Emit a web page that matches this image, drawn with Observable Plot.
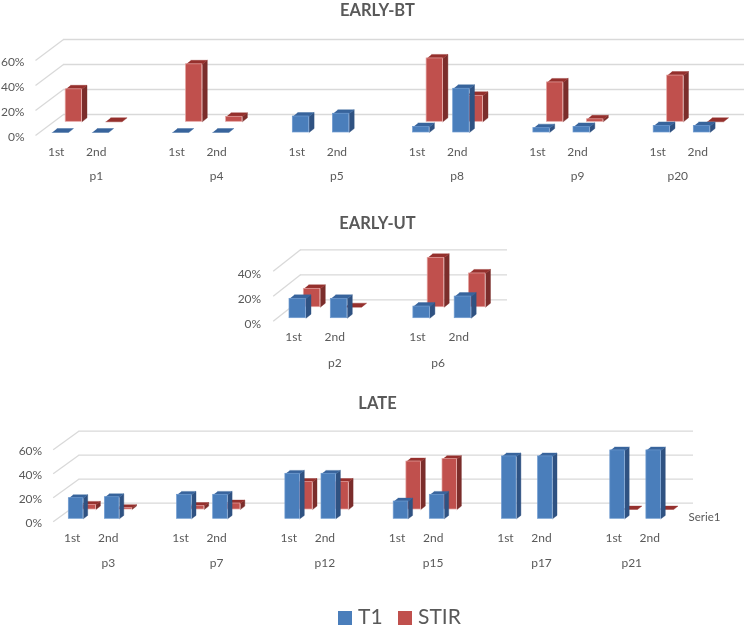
<!DOCTYPE html>
<html>
<head>
<meta charset="utf-8">
<script src="https://cdn.jsdelivr.net/npm/d3@7"></script>
<script src="https://cdn.jsdelivr.net/npm/@observablehq/plot@0.6"></script>
<style>
  html, body { margin: 0; padding: 0; background: #fff; }
  #page { position: relative; width: 746px; height: 629px; overflow: hidden; font-family: Lato, sans-serif; color: #595959; filter: blur(0.35px); }
  .panel { position: absolute; left: 0; }
  .panel svg { display: block; background: transparent; }
  .title { position: absolute; left: 0; width: 755px; text-align: center; font-size: 16.5px; font-weight: 700; line-height: 20px; color: #595959; }
  .legend { position: absolute; top: 603px; left: 0; width: 746px; height: 26px; font-size: 21px; line-height: 25px; }
  .legend i { position: absolute; top: 8px; width: 14px; height: 14px; display: block; }
  .legend span { position: absolute; top: 0; }
</style>
</head>
<body>
<div id="page"></div>
<script>
const rounds = ["1st", "2nd"];

const earlyBtPatients = ["p1", "p4", "p5", "p8", "p9", "p20"];
const earlyBtT1 = [0, 0, 0, 0, 12.8, 15, 4.5, 35, 3.5, 4.5, 5.3, 5.3];
const earlyBtStir = [26, 0, 46, 4, null, null, 50.7, 20.8, 31.5, 2, 37, 0];

const earlyUtPatients = ["p2", "p6"];
const earlyUtT1 = [15.5, 15.5, 9.3, 17.3];
const earlyUtStir = [14.7, 0, 39.5, 27];

const latePatients = ["p3", "p7", "p12", "p15", "p17", "p21"];
const lateT1 = [17.2, 18, 20, 20, 37.5, 37.5, 14.4, 20, 52, 52, 57, 57];
const lateStir = [3.9, 1.2, 3, 5, 23, 23, 40, 42, null, null, 0, 0];

const ticks3 = [0, 20, 40, 60];
const ticks2 = [0, 20, 40];

const palette = {
  T1: { front: "#4a7ebb", side: "#2f5282", top: "#38649c", edge: "#6f9bd0" },
  STIR: { front: "#c0504d", side: "#7b2d2b", top: "#95302d", edge: "#e6a5a3" }
};

function panel(cfg) {
  const { patients, t1, stir, ticks, top, height, unit, x0, barW, yBase, ppp,
          redDx, redDy, wallDy, diagX1, diagX2, xEnd, labelRight, labelDx, axisDy, roundDy, patientDy, depthX, depthY, extra } = cfg;

  const toU = px => (px - x0) / unit;
  const pxU = px => px / unit;
  const pxV = px => px / ppp;
  const ml = labelRight + 3;
  const wall = pxV(wallDy);

  function bars(values, key, shiftX, shiftY) {
    return values.map((v, i) => {
      if (v == null) return null;
      const xl = i * 1 + Math.floor(i / 2) + pxU(shiftX);
      return { key, id: key + i, v, xl, xr: xl + pxU(barW), base: pxV(shiftY) };
    }).filter(Boolean);
  }
  function faces(list) {
    const dx = pxU(depthX), dy = pxV(depthY);
    const rows = [];
    for (const b of list) {
      const c = palette[b.key];
      const top = b.base + b.v;
      if (b.v > 0) {
        [[b.xr, b.base], [b.xr + dx, b.base + dy], [b.xr + dx, top + dy], [b.xr, top]]
          .forEach(([x, y]) => rows.push({ id: b.id + "s", x, y, c: c.side }));
      }
      [[b.xl, top], [b.xr, top], [b.xr + dx, top + dy], [b.xl + dx, top + dy]]
        .forEach(([x, y]) => rows.push({ id: b.id + "t", x, y, c: c.top }));
    }
    return rows;
  }
  function seriesMarks(list, key) {
    const c = palette[key];
    return [
      Plot.line(faces(list), { x: "x", y: "y", z: "id", fill: "c", stroke: "c", strokeWidth: 0.4 }),
      Plot.rect(list.filter(b => b.v > 0), {
        x1: "xl", x2: "xr", y1: "base", y2: b => b.base + b.v,
        fill: c.front, stroke: c.edge, strokeWidth: 0.7
      })
    ];
  }

  const lastI = patients.length - 1;
  const roundLabels = patients.flatMap((p, i) => rounds.map((r, j) => ({ r, u: 3 * i + j + pxU(labelDx) })));
  const patientLabels = patients.map((p, i) => ({ p, u: 3 * i + (i === lastI ? 0.5 : 1) + pxU(labelDx) }));

  const grid = "#d9d9d9";
  const textFill = "#595959";
  const plot = Plot.plot({
    width: 746,
    height,
    marginLeft: ml,
    marginRight: 0,
    marginTop: 0,
    marginBottom: 0,
    style: { fontFamily: "Lato, sans-serif", fontSize: "12px", background: "transparent" },
    color: { type: "identity" },
    x: { domain: [toU(ml), toU(746)], range: [ml, 746], axis: null },
    y: { domain: [-(top + height - yBase) / ppp, (yBase - top) / ppp], range: [height, 0], axis: null },
    marks: [
      Plot.link(ticks, {
        x1: () => toU(diagX1), x2: () => toU(diagX2),
        y1: d => d - pxV(3), y2: d => d + wall,
        stroke: grid, strokeWidth: 1.3
      }),
      Plot.ruleY(ticks, {
        y: d => d + wall, x1: () => toU(diagX2), x2: () => toU(xEnd),
        stroke: grid, strokeWidth: 1.3
      }),
      ...seriesMarks(bars(stir, "STIR", redDx, redDy), "STIR"),
      ...seriesMarks(bars(t1, "T1", 0, 0), "T1"),
      Plot.axisY({
        ticks, tickSize: 0, tickPadding: 3, dy: axisDy, fontSize: 12,
        tickFormat: d => d + "%", fill: textFill, label: null
      }),
      Plot.text(roundLabels, { x: "u", y: () => 0, text: "r", dy: roundDy, fill: textFill, fontSize: 12 }),
      Plot.text(patientLabels, { x: "u", y: () => 0, text: "p", dy: patientDy, fill: textFill, fontSize: 12 }),
      ...(extra ? [Plot.text([extra.text], { x: () => toU(extra.x), y: () => 0, text: d => d, dy: extra.dy, textAnchor: "start", fill: textFill, fontSize: 11.5 })] : [])
    ]
  });
  const holder = document.createElement("div");
  holder.className = "panel";
  holder.style.top = top + "px";
  holder.appendChild(plot);
  return holder;
}

const page = document.getElementById("page");

page.appendChild(panel({
  patients: earlyBtPatients, t1: earlyBtT1, stir: earlyBtStir, ticks: ticks3,
  top: 25, height: 165, unit: 40.1, x0: 51.7, barW: 16.3, yBase: 132, ppp: 1.25,
  redDx: 13.5, redDy: 10.7, wallDy: 18, diagX1: 35, diagX2: 63, xEnd: 744,
  labelRight: 24, labelDx: 4, axisDy: 5, roundDy: 19.6, patientDy: 44, depthX: 5, depthY: 4
}));
page.appendChild(panel({
  patients: earlyUtPatients, t1: earlyUtT1, stir: earlyUtStir, ticks: ticks2,
  top: 235, height: 140, unit: 41.3, x0: 289, barW: 16.5, yBase: 317.7, ppp: 1.25,
  redDx: 14.3, redDy: 11, wallDy: 18.4, diagX1: 272.7, diagX2: 300, xEnd: 507,
  labelRight: 260.7, labelDx: 4, axisDy: 5.5, roundDy: 19.2, patientDy: 45, depthX: 5, depthY: 4
}));
page.appendChild(panel({
  patients: latePatients, t1: lateT1, stir: lateStir, ticks: ticks3,
  top: 415, height: 165, unit: 36.1, x0: 68.3, barW: 14.5, yBase: 518.3, ppp: 1.2,
  redDx: 12.7, redDy: 9.3, wallDy: 15.6, diagX1: 52.7, diagX2: 78.3, xEnd: 693,
  labelRight: 41.7, labelDx: 3.4, axisDy: 4, roundDy: 19.6, patientDy: 44, depthX: 4.4, depthY: 3.4,
  extra: { text: "Serie1", x: 688, dy: -1 }
}));

[["EARLY-BT", 0], ["EARLY-UT", 213], ["LATE", 393]].forEach(([t, y]) => {
  const el = document.createElement("div");
  el.className = "title";
  el.style.top = y + "px";
  el.textContent = t;
  page.appendChild(el);
});

const legend = document.createElement("div");
legend.className = "legend";
legend.innerHTML =
  '<i style="left:338px;background:' + palette.T1.front + '"></i><span style="left:358px">T1</span>' +
  '<i style="left:398px;background:' + palette.STIR.front + '"></i><span style="left:418px">STIR</span>';
page.appendChild(legend);
</script>
</body>
</html>
